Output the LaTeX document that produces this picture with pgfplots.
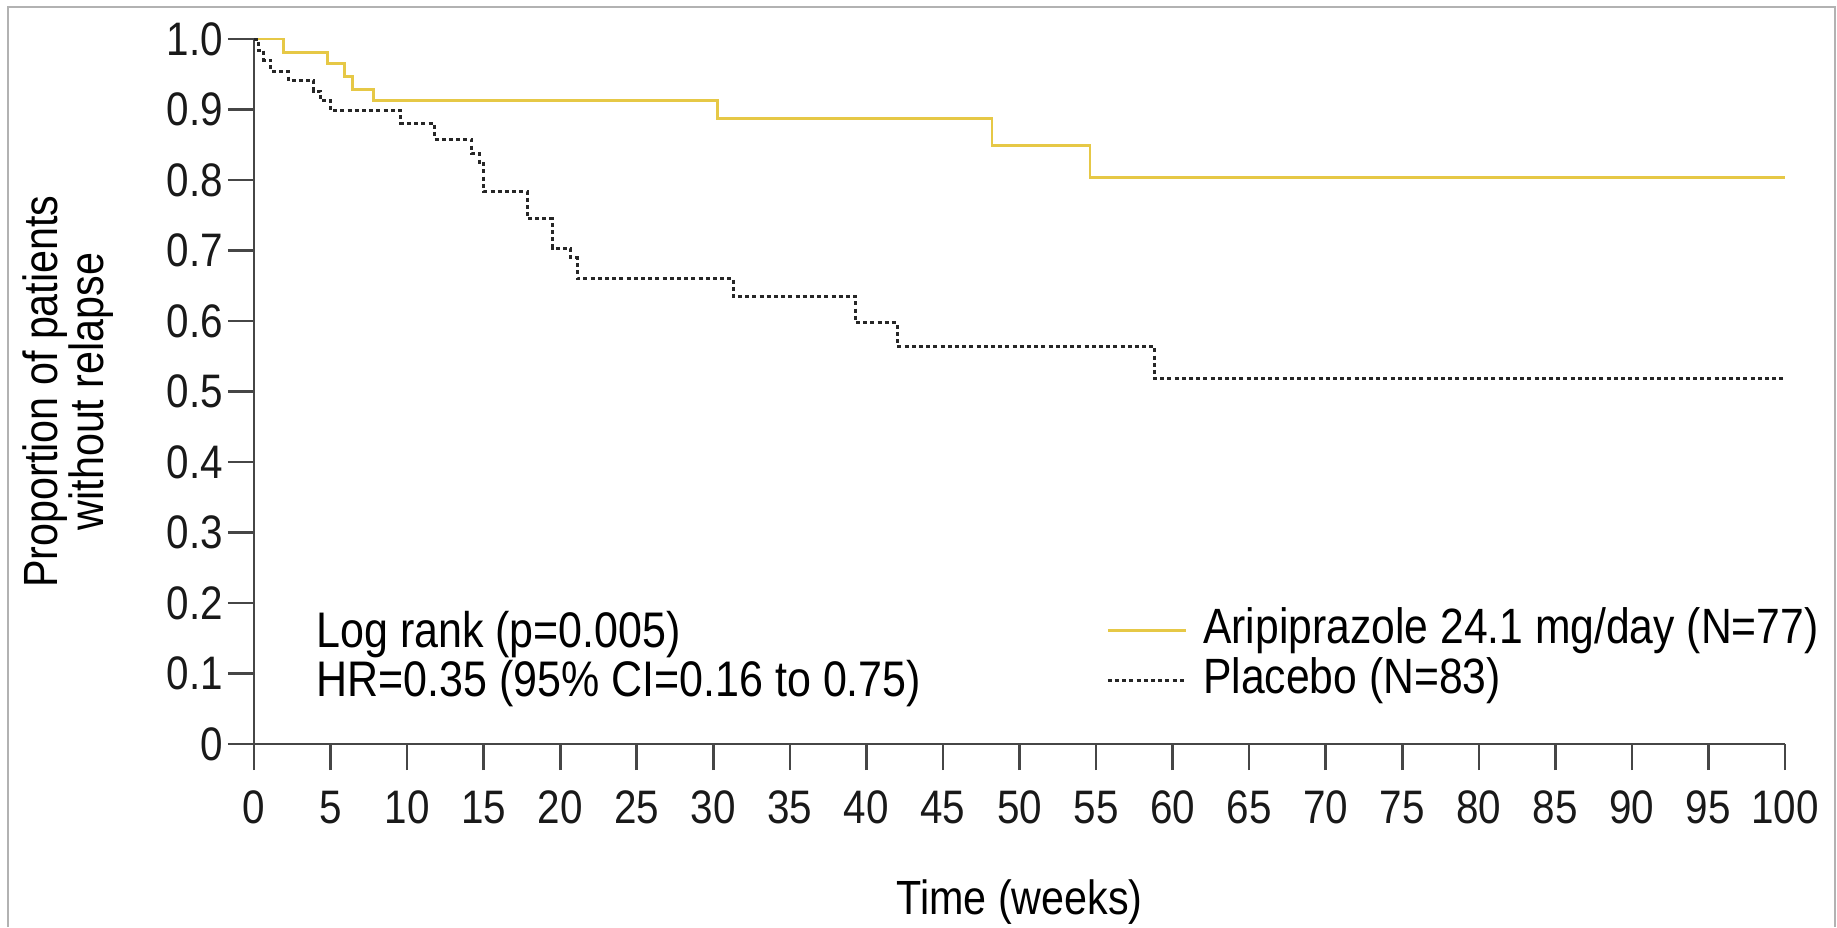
\documentclass[border=0pt]{standalone}
\usepackage{pgfplots}
\pgfplotsset{compat=1.18}
\usepackage{fontspec}
\setmainfont{Liberation Sans}[FakeStretch=0.86]
\definecolor{arip}{RGB}{230,200,70}
\definecolor{axgray}{RGB}{70,70,70}
\begin{document}
\begin{tikzpicture}
\useasboundingbox (0,0) rectangle (918.5pt,-463.5pt);
\draw[gray!60, line width=0.9pt] (4pt,-463.5pt) -- (4pt,-3.5pt) -- (917.5pt,-3.5pt) -- (917.5pt,-463.5pt);
\begin{axis}[
  at={(127pt,-372pt)}, anchor=south west,
  scale only axis, width=765.5pt, height=352.5pt,
  xmin=0, xmax=100, ymin=0, ymax=1,
  axis x line*=bottom, axis y line*=left,
  axis line style={-, line width=1.3pt, color=axgray},
  tick style={line width=1.3pt, color=axgray},
  tick align=outside, major tick length=13pt,
  xtick={0,5,...,100},
  xticklabels={0,5,10,15,20,25,30,35,40,45,50,55,60,65,70,75,80,85,90,95,100},
  ytick={0,0.1,0.2,0.3,0.4,0.5,0.6,0.7,0.8,0.9,1},
  yticklabels={0,0.1,0.2,0.3,0.4,0.5,0.6,0.7,0.8,0.9,1.0},
  ticklabel style={font=\fontsize{23.5}{27}\selectfont, text=black!90},
  xticklabel style={yshift=-7pt},
  yticklabel style={xshift=1pt},
  xlabel={Time (weeks)},
  xlabel style={font=\fontsize{24}{28}\selectfont, at={(axis description cs:0.5,-0.224)}, anchor=center},
  ylabel={Proportion of patients\\without relapse},
  ylabel style={font=\fontsize{24}{22}\selectfont, align=center, at={(axis description cs:-0.1215,0.5)}, anchor=center},
  legend style={draw=none, fill=none, at={(axis description cs:0.5525,0.126)}, anchor=west,
    font=\fontsize{24.8}{30}\selectfont, nodes={inner sep=0pt, text height=18pt, text depth=5pt},
    row sep=2pt, cells={anchor=west},
    /tikz/every odd column/.append style={column sep=8pt}},
  legend image code/.code={\draw[#1] (0pt,0pt) -- (39pt,0pt);},
  clip=false,
]
\addplot[const plot, color=arip, line width=1.4pt] coordinates {
 (0,1.0) (1.95,0.981) (4.8,0.9655) (5.9,0.947) (6.45,0.928) (7.8,0.9125)
 (30.3,0.8875) (48.2,0.849) (54.6,0.804) (100,0.804)
};
\addlegendentry{Aripiprazole 24.1 mg/day (N=77)}
\addplot[const plot, color=black!85, line width=1.5pt, dash pattern=on 2pt off 1.6pt] coordinates {
 (0,1.0) (0.3,0.984) (0.65,0.970) (1.1,0.954) (2.25,0.941) (3.9,0.926) (4.35,0.913)
 (5.0,0.898) (9.6,0.880) (11.8,0.858) (14.2,0.838) (14.7,0.823) (15.0,0.784)
 (17.85,0.745) (19.5,0.703) (20.7,0.69) (21.1,0.6605) (31.3,0.6345) (39.3,0.5976)
 (42.0,0.5645) (58.8,0.5187) (100,0.5187)
};
\addlegendentry{Placebo (N=83)}
\node[anchor=west, align=left, inner sep=0pt, font=\fontsize{25}{24.5}\selectfont]
  at (axis description cs:0.0405,0.121) {Log rank (p=0.005)\\HR=0.35 (95\% CI=0.16 to 0.75)};
\end{axis}
\end{tikzpicture}
\end{document}
